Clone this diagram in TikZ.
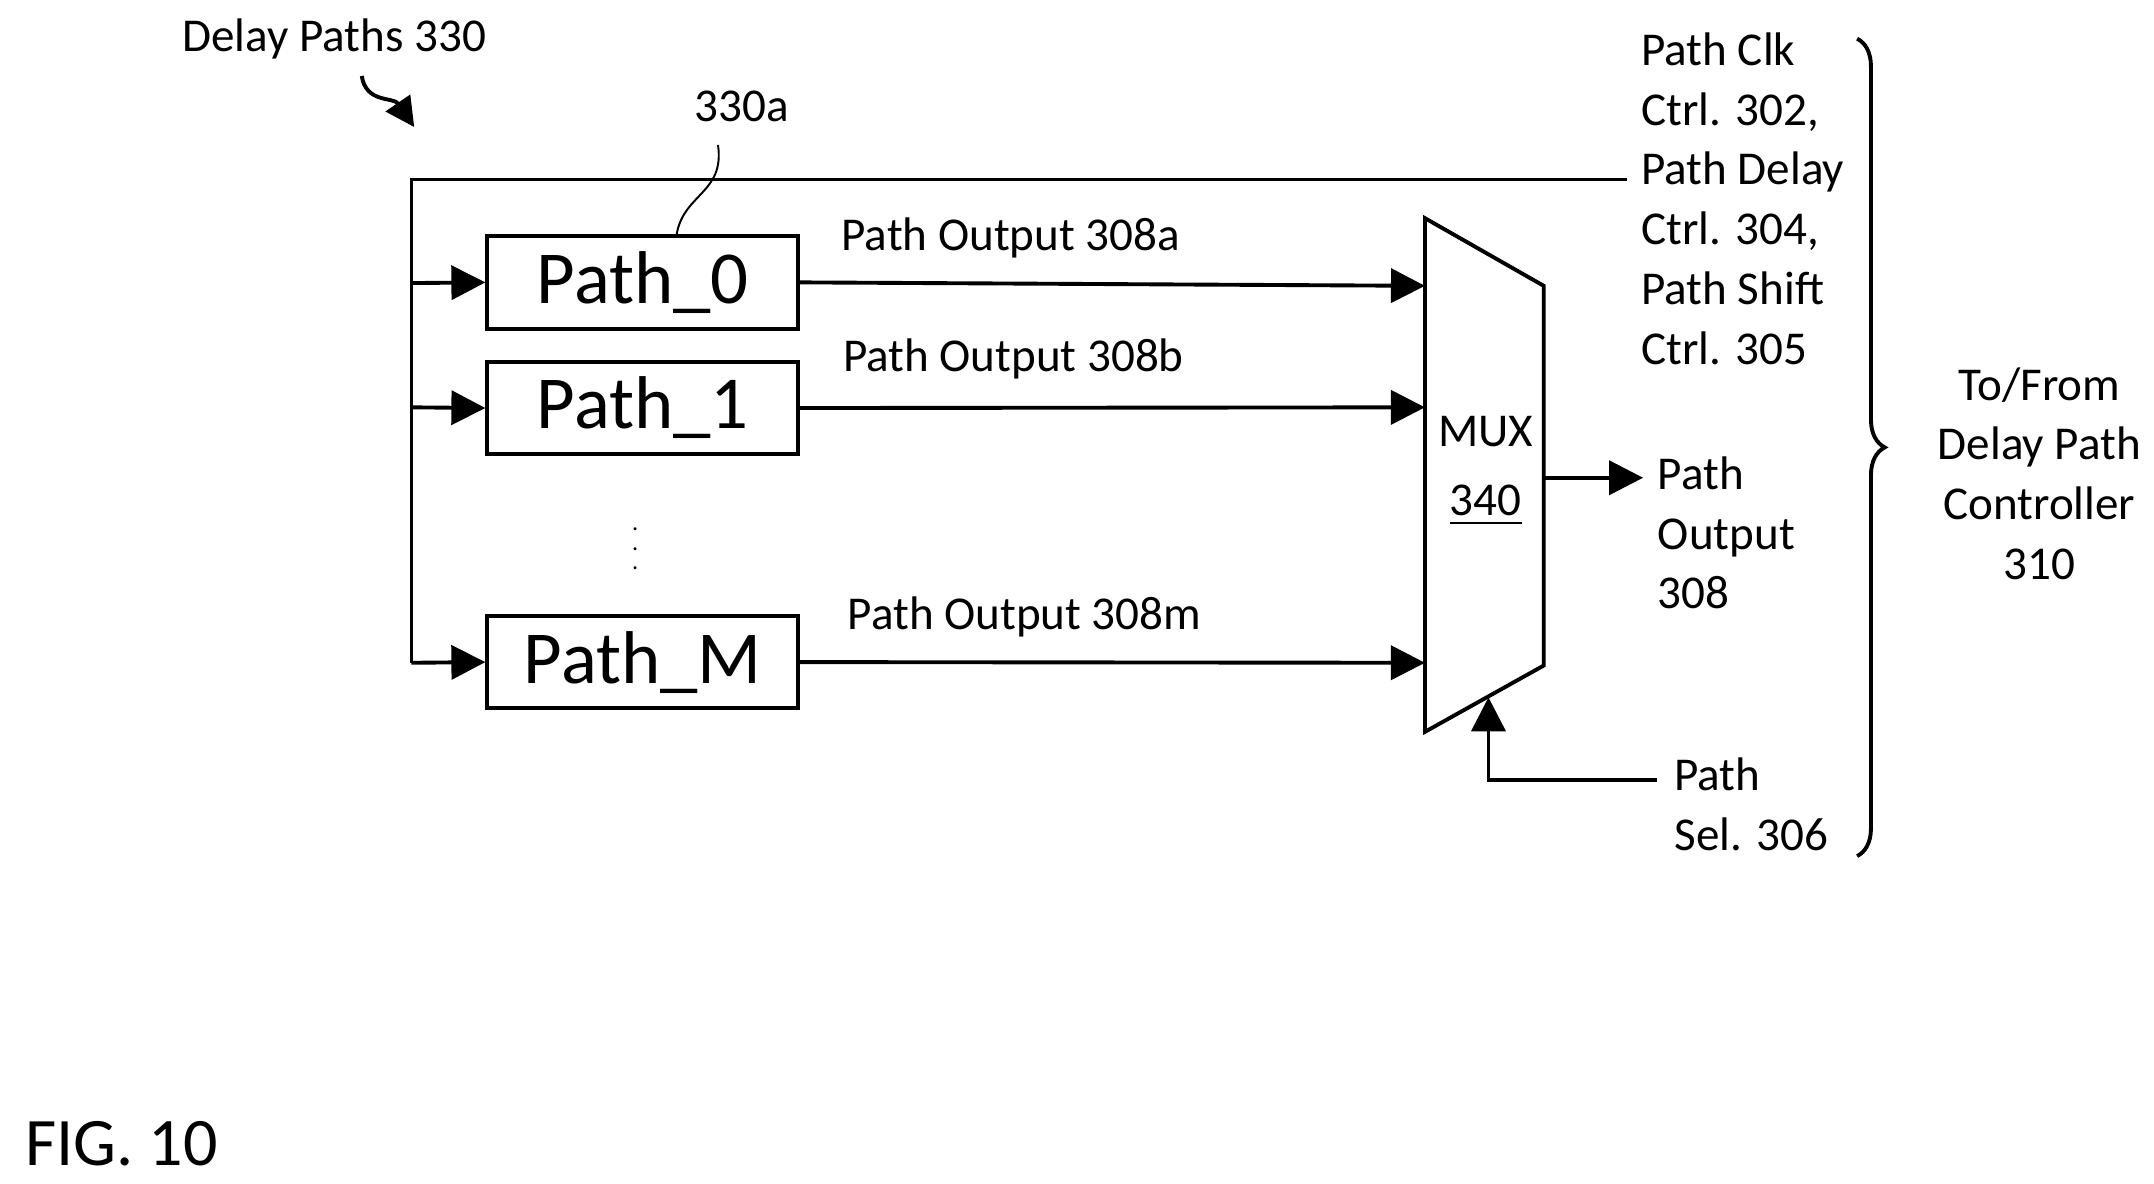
\documentclass[tikz,border=0pt]{standalone}
\usepackage{fontspec}
\setmainfont{Carlito}
\usetikzlibrary{arrows.meta, decorations.pathreplacing}
\begin{document}
\begin{tikzpicture}[x=0.01cm,y=-0.01cm,
    line/.style={thick},
    arr/.style={thick,-{Triangle[length=7pt,width=7pt]}},
    pathbox/.style={draw,thick,minimum width=2.25cm,minimum height=0.67cm,inner sep=0pt,font=\fontsize{15.4}{18}\selectfont},
    lbl/.style={font=\fontsize{9.7}{12.3}\selectfont,inner sep=0pt}]
    \useasboundingbox (0,0) rectangle (1560,857);

    % title and figure number
    \node[lbl] (title) at (242,28) {Delay Paths 330};
    \draw[thick,-{Triangle[length=6pt,width=6pt]}] (262,55) .. controls (265,75) and (285,70) .. (300,92);
    \node[font=\fontsize{14}{16}\selectfont,inner sep=0pt] (fig) at (88,828) {FIG. 10};

    % delay path boxes
    \node[pathbox] (p0) at (465.5,204.5) {Path\_0};
    \node[pathbox] (p1) at (465.5,295.5) {Path\_1};
    \node[pathbox] (pm) at (465.5,479.5) {Path\_M};
    \node[font=\tiny,inner sep=0pt] (dots) at (460,387) {$\vdots$};
    \node[lbl] (l330a) at (537,77) {330a};
    \draw[line,thin] (520,105) .. controls (525,140) and (495,140) .. (490,170);

    % control bus
    \coordinate (bus) at (1178,130);
    \coordinate (c0) at (298,130);
    \coordinate (cm) at (298,480);
    \draw[line] (bus) -- (c0) -- (cm);
    \draw[arr] (298,205) -- (p0.west);
    \draw[arr] (298,295) -- (p1.west);
    \draw[arr] (cm) -- (pm.west);

    % multiplexer
    \coordinate (m1) at (1032,158);
    \coordinate (m2) at (1118,207);
    \coordinate (m3) at (1118,482);
    \coordinate (m4) at (1032,530);
    \draw[line] (m1) -- (m2) -- (m3) -- (m4) -- cycle;
    \node[lbl,align=center] (mux) at (1076,341) {MUX\\[2pt]\underline{340}};

    % path outputs
    \draw[arr] (p0.east) -- (1032,207);
    \draw[arr] (p1.east) -- (1032,295);
    \draw[arr] (pm.east) -- (1032,480);
    \node[lbl] (o0) at (732,172) {Path Output 308a};
    \node[lbl] (o1) at (734,260) {Path Output 308b};
    \node[lbl] (om) at (742,447) {Path Output 308m};
    \draw[arr] (1118,346) -- (1190,346);
    \node[lbl,align=left,anchor=north west] (out) at (1200,330) {Path\\Output\\308};

    % path select
    \coordinate (sel) at (1200,565);
    \draw[arr] (sel) -- (1078,565) -- (1078,505);
    \node[lbl,align=left,anchor=north west] (sell) at (1212,548) {Path\\Sel. 306};

    % controls and brace
    \node[lbl,align=left,anchor=north west] (ctrl) at (1188,23) {Path Clk\\Ctrl. 302,\\Path Delay\\Ctrl. 304,\\Path Shift\\Ctrl. 305};
    \draw[line,decorate,decoration={brace,amplitude=0.2cm}] (1345,28) -- (1345,620);
    \node[lbl,align=center] (ctl) at (1477,343) {To/From\\Delay Path\\Controller\\310};
\end{tikzpicture}
\end{document}
